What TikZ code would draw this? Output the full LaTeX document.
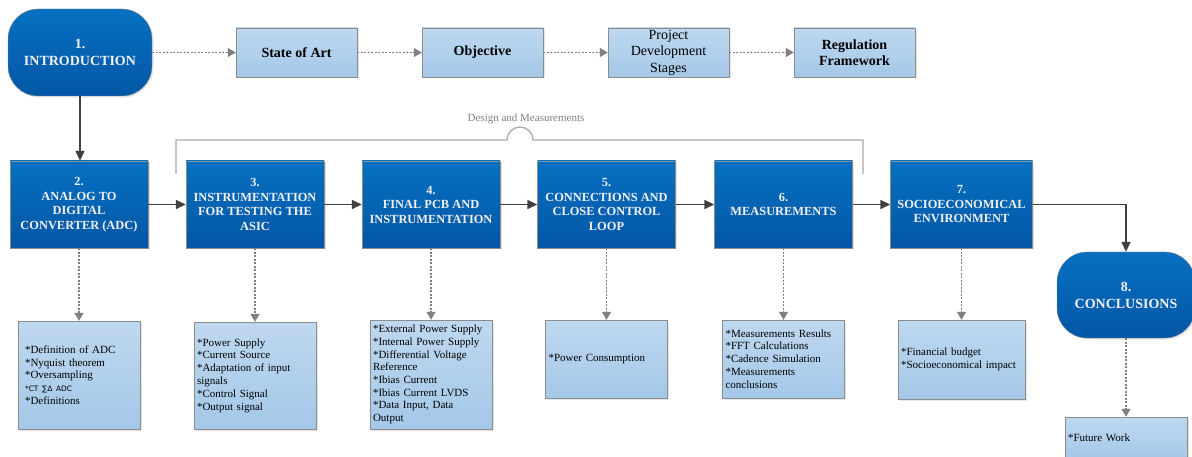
\documentclass[tikz,border=0pt]{standalone}
\usepackage{fontspec}
\setmainfont{Liberation Serif}
\newfontfamily\symfont{DejaVu Sans}
\usetikzlibrary{arrows.meta, shadows}

\definecolor{chapblue}{RGB}{6,112,192}
\definecolor{chapbluedark}{RGB}{4,86,166}
\definecolor{notebluelight}{RGB}{190,216,239}
\definecolor{noteblue}{RGB}{164,200,232}
\definecolor{boxgray}{RGB}{140,140,140}
\definecolor{linkgray}{RGB}{64,64,64}
\definecolor{dotgray}{RGB}{128,128,128}
\definecolor{bracegray}{RGB}{170,170,170}

\tikzset{
    softshadow/.style={drop shadow={opacity=0.2, shadow xshift=1.5pt, shadow yshift=-1.5pt}},
    chapter/.style={rectangle, draw=boxgray, top color=chapblue, bottom color=chapbluedark,
        text=white!94!black, font=\bfseries\fontsize{12.4}{14.5}\selectfont, align=center,
        minimum width=138pt, minimum height=87pt, inner sep=0pt, softshadow},
    endpoint/.style={chapter, rounded corners=30pt, font=\bfseries\fontsize{14}{17}\selectfont},
    topic/.style={rectangle, draw=boxgray, top color=notebluelight, bottom color=noteblue,
        minimum width=121pt, minimum height=49pt, inner sep=0pt, align=center,
        font=\bfseries\fontsize{14}{16}\selectfont, softshadow},
    note/.style={rectangle, draw=boxgray, top color=notebluelight, bottom color=noteblue,
        text width=116pt, inner xsep=3pt, inner ysep=0pt, align=left,
        font=\fontsize{11}{12.8}\selectfont, softshadow},
    mainlink/.style={draw=linkgray, line width=1.5pt, -{Triangle[length=10pt,width=9pt]}},
    sublink/.style={draw=dotgray, line width=1.2pt, dash pattern=on 2pt off 1.5pt,
        -{Triangle[length=8pt,width=9pt]}}
}

\begin{document}
\begin{tikzpicture}[x=1pt, y=1pt]
            \useasboundingbox (0,0) rectangle (1192,-457);

            % top row
            \node[endpoint, minimum width=144pt] (intro) at (80,-52.5) {1.\\INTRODUCTION};
            \node[topic] (sota) at (296.5,-52.5) {State of Art};
            \node[topic] (obj) at (482.5,-52.5) {Objective};
            \node[topic, font=\fontsize{14}{16.5}\selectfont] (stages) at (668.5,-52.5) {Project\\Development\\Stages};
            \node[topic] (reg) at (854.5,-52.5) {Regulation\\Framework};

            \draw[sublink] (intro.east) -- (sota.west);
            \draw[sublink] (sota.east) -- (obj.west);
            \draw[sublink] (obj.east) -- (stages.west);
            \draw[sublink] (stages.east) -- (reg.west);

            % chapters
            \node[chapter] (adc) at (79,-204.5) {2.\\ANALOG TO\\DIGITAL\\CONVERTER (ADC)};
            \node[chapter] (instr) at (255,-204.5) {3.\\INSTRUMENTATION\\FOR TESTING THE\\ASIC};
            \node[chapter] (pcb) at (431,-204.5) {4.\\FINAL PCB AND\\INSTRUMENTATION};
            \node[chapter] (loop) at (606.5,-204.5) {5.\\CONNECTIONS AND\\CLOSE CONTROL\\LOOP};
            \node[chapter] (meas) at (783.5,-204.5) {6.\\MEASUREMENTS};
            \node[chapter, minimum width=142pt] (socio) at (961.5,-204.5) {7.\\SOCIOECONOMICAL\\ENVIRONMENT};
            \node[endpoint, minimum width=138pt, minimum height=86pt] (concl) at (1126,-295) {8.\\CONCLUSIONS};

            \draw[mainlink] (intro.south) -- (intro.south |- adc.north);
            \draw[mainlink] (adc.east) -- (instr.west);
            \draw[mainlink] (instr.east) -- (pcb.west);
            \draw[mainlink] (pcb.east) -- (loop.west);
            \draw[mainlink] (loop.east) -- (meas.west);
            \draw[mainlink] (meas.east) -- (socio.west);
            \draw[mainlink] (socio.east) -| (concl.north);

            % design and measurements bracket
            \draw[bracegray, line width=1.3pt] (176,-174) -- (176,-140) -- (507,-140)
                arc (180:0:13) -- (863,-140) -- (863,-174);
            \node[text=dotgray, font=\fontsize{11}{13}\selectfont] (dmlabel) at (526,-119) {Design and Measurements};

            % contents
            \node[note, text width=108pt, inner xsep=7pt, minimum height=108pt] (adcnote) at (79,-375)
                {{*}Definition of ADC\\{*}Nyquist theorem\\{*}Oversampling\\{\symfont\fontsize{7.5}{12.8}\selectfont *CT ∑Δ ADC}\\{*}Definitions};
            \node[note, minimum height=107pt] (instrnote) at (255,-375.5)
                {{*}Power Supply\\{*}Current Source\\{*}Adaptation of input\\signals\\{*}Control Signal\\{*}Output signal};
            \node[note, minimum height=109pt, font=\fontsize{11}{12.7}\selectfont] (pcbnote) at (431,-374.5)
                {{*}External Power Supply\\{*}Internal Power Supply\\{*}Differential Voltage\\Reference\\{*}Ibias Current\\{*}Ibias Current LVDS\\{*}Data Input, Data\\Output};
            \node[note, minimum height=78pt] (loopnote) at (606.5,-359)
                {{*}Power Consumption};
            \node[note, minimum height=78pt] (measnote) at (783.5,-359)
                {{*}Measurements Results\\{*}FFT Calculations\\{*}Cadence Simulation\\{*}Measurements\\conclusions};
            \node[note, text width=121pt, minimum height=79pt] (socionote) at (961.5,-359.5)
                {{*}Financial budget\\{*}Socioeconomical impact};
            \node[note, minimum height=42pt] (future) at (1126,-438)
                {{*}Future Work};

            \draw[sublink] (adc.south) -- (adcnote.north);
            \draw[sublink] (instr.south) -- (instrnote.north);
            \draw[sublink] (pcb.south) -- (pcbnote.north);
            \draw[sublink] (loop.south) -- (loopnote.north);
            \draw[sublink] (meas.south) -- (measnote.north);
            \draw[sublink] (socio.south) -- (socionote.north);
            \draw[sublink] (concl.south) -- (future.north);
\end{tikzpicture}
\end{document}
